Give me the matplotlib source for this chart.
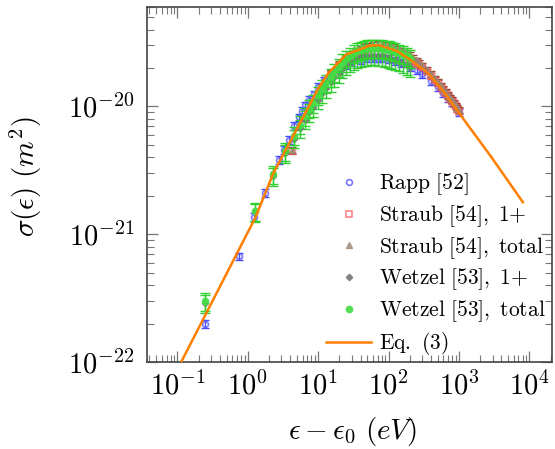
import matplotlib
matplotlib.use("Agg")
import matplotlib.pyplot as plt
import numpy as np
from matplotlib.ticker import FuncFormatter, LogLocator, NullFormatter, FixedLocator

plt.rcParams['mathtext.fontset'] = 'cm'
plt.rcParams['font.family'] = ['DejaVu Serif']

# ---------------- data ----------------
rapp_x = [0.25, 0.76, 1.24, 1.77, 2.8, 3.3, 3.8, 4.5, 5.25, 5.9, 6.5, 7.5, 8.6, 10, 12, 15, 20, 25, 30, 40,
          50, 60, 70, 80, 100, 125, 150, 200, 250, 300, 400, 500, 600, 700, 800, 1000]
rapp_y = [2.0e-22, 6.7e-22, 1.36e-21, 2.12e-21, 3.8e-21, 4.6e-21, 5.5e-21, 7.0e-21, 8.2e-21, 9.2e-21,
          1.02e-20, 1.13e-20, 1.24e-20, 1.42e-20, 1.6e-20, 1.78e-20, 1.98e-20, 2.12e-20, 2.22e-20, 2.32e-20,
          2.38e-20, 2.40e-20, 2.40e-20, 2.39e-20, 2.35e-20, 2.28e-20, 2.2e-20, 2.05e-20, 1.92e-20, 1.8e-20,
          1.58e-20, 1.42e-20, 1.28e-20, 1.17e-20, 1.08e-20, 9.0e-21]
rapp_err = 0.07

straub_x = [4.2, 15, 20, 25, 30, 35, 40, 45, 50, 60, 70, 80, 90, 100, 110, 120, 140, 160, 180, 200, 225,
            250, 275, 300, 350, 400, 450, 500, 550, 600, 650, 700, 750, 800, 850, 900, 950, 1000]
straub_tot_y = [4.56e-21, 1.85e-20, 2.15e-20, 2.42e-20, 2.6e-20, 2.75e-20, 2.85e-20, 2.93e-20, 2.98e-20,
                3.05e-20, 3.07e-20, 3.07e-20, 3.05e-20, 3.02e-20, 2.98e-20, 2.93e-20, 2.83e-20, 2.73e-20,
                2.62e-20, 2.52e-20, 2.4e-20, 2.29e-20, 2.19e-20, 2.1e-20, 1.94e-20, 1.79e-20, 1.66e-20,
                1.55e-20, 1.46e-20, 1.38e-20, 1.3e-20, 1.23e-20, 1.17e-20, 1.12e-20, 1.07e-20, 1.02e-20,
                9.8e-21, 9.4e-21]
straub_one_y = [4.5e-21, 1.8e-20, 2.08e-20, 2.33e-20, 2.5e-20, 2.63e-20, 2.72e-20, 2.78e-20, 2.82e-20,
                2.87e-20, 2.88e-20, 2.87e-20, 2.85e-20, 2.82e-20, 2.78e-20, 2.73e-20, 2.64e-20, 2.55e-20,
                2.46e-20, 2.38e-20, 2.28e-20, 2.19e-20, 2.1e-20, 2.02e-20, 1.88e-20, 1.74e-20, 1.62e-20,
                1.52e-20, 1.43e-20, 1.35e-20, 1.28e-20, 1.21e-20, 1.15e-20, 1.1e-20, 1.05e-20, 1.0e-20,
                9.6e-21, 9.2e-21]
straub_err = 0.05

wetzel_x = [0.25, 1.25, 2.3, 3.4, 4.5, 5.5, 6.5, 7.5, 8.5, 10, 11.5, 13, 15, 17, 19.5, 22, 25, 28, 32, 36,
            40, 45, 50, 56, 63, 70, 80, 90, 100, 110, 125, 140, 160, 180, 200]
wetzel_tot_y = [3.0e-22, 1.52e-21, 2.94e-21, 4.47e-21, 5.9e-21, 7.2e-21, 8.4e-21, 9.6e-21, 1.06e-20,
                1.22e-20, 1.38e-20, 1.52e-20, 1.7e-20, 1.86e-20, 2.03e-20, 2.2e-20, 2.36e-20, 2.48e-20,
                2.6e-20, 2.7e-20, 2.76e-20, 2.8e-20, 2.83e-20, 2.85e-20, 2.86e-20, 2.86e-20, 2.84e-20,
                2.82e-20, 2.78e-20, 2.74e-20, 2.68e-20, 2.62e-20, 2.54e-20, 2.46e-20, 2.38e-20]
wetzel_one_y = [2.9e-22, 1.48e-21, 2.85e-21, 4.3e-21, 5.6e-21, 6.8e-21, 7.9e-21, 9.0e-21, 9.9e-21,
                1.13e-20, 1.27e-20, 1.39e-20, 1.55e-20, 1.69e-20, 1.83e-20, 1.97e-20, 2.1e-20, 2.2e-20,
                2.3e-20, 2.38e-20, 2.43e-20, 2.46e-20, 2.48e-20, 2.49e-20, 2.49e-20, 2.48e-20, 2.46e-20,
                2.43e-20, 2.39e-20, 2.35e-20, 2.3e-20, 2.24e-20, 2.17e-20, 2.1e-20, 2.03e-20]
wetzel_err = 0.16

eq_x = [0.113, 1.28, 2.32, 5.0, 10, 14, 25, 55, 76, 131, 200, 360, 600, 1030, 2900, 8100]
eq_y = [1.0e-22, 1.35e-21, 3.03e-21, 6.7e-21, 1.38e-20, 1.83e-20, 2.55e-20, 3.0e-20, 3.0e-20, 2.72e-20,
        2.33e-20, 1.83e-20, 1.32e-20, 8.7e-21, 4.0e-21, 1.78e-21]

x_ticks = [0.1, 1, 10, 100, 1000, 10000]
y_ticks = [1e-22, 1e-21, 1e-20]

labels = [r'$\mathrm{Rapp\ [52]}$', r'$\mathrm{Straub\ [54],\ 1{+}}$', r'$\mathrm{Straub\ [54],\ total}$',
          r'$\mathrm{Wetzel\ [53],\ 1{+}}$', r'$\mathrm{Wetzel\ [53],\ total}$', r'$\mathrm{Eq.\ (3)}$']

# ---------------- figure ----------------
fig = plt.figure(figsize=(5.55, 4.49), dpi=100)
ax = fig.add_axes([0.265, 0.1938, 0.7296, 0.7906])
ax.set_xscale('log')
ax.set_yscale('log')

def ebar(x, y, frac, color, cap, lw, z):
    x = np.asarray(x); y = np.asarray(y)
    ax.errorbar(x, y, yerr=y * frac, fmt='none', ecolor=color, elinewidth=lw, capsize=cap,
                capthick=lw, zorder=z)

ebar(rapp_x, rapp_y, rapp_err, '#4a4aff', 3.2, 1.0, 2)
ax.plot(rapp_x, rapp_y, 'o', ms=4.2, mfc='none', mec='#5555ff', mew=1.2, alpha=0.8, zorder=2.1,
        label=labels[0])
ebar(straub_x, straub_one_y, straub_err, '#cc4444', 3.0, 1.0, 3)
ax.plot(straub_x, straub_one_y, 's', ms=4.0, mfc='none', mec='#ff6666', mew=1.2, alpha=0.8, zorder=3.1,
        label=labels[1])
ebar(straub_x, straub_tot_y, straub_err, '#994433', 3.0, 1.0, 4)
ax.plot(straub_x, straub_tot_y, '^', ms=4.0, mfc='#a08878', mec='#a08878', alpha=0.8, zorder=4.1,
        label=labels[2])
ebar(wetzel_x, wetzel_one_y, wetzel_err, '#33cc33', 3.5, 1.0, 5)
ax.plot(wetzel_x, wetzel_one_y, 'D', ms=3.2, mfc='#777777', mec='#777777', alpha=0.9, zorder=5.1,
        label=labels[3])
ebar(wetzel_x, wetzel_tot_y, wetzel_err, '#2ed42e', 3.5, 1.0, 6)
ax.plot(wetzel_x, wetzel_tot_y, 'o', ms=4.5, mfc='#44dd44', mec='#44dd44', alpha=0.9, zorder=6.1,
        label=labels[4])
ax.plot(eq_x, eq_y, '-', color='#ff7f00', lw=1.8, zorder=10, label=labels[5])

ax.set_xlim(0.037, 21000)
ax.set_ylim(1e-22, 6.0e-20)

fmt = FuncFormatter(lambda v, p: r'$10^{%d}$' % int(round(np.log10(v))))
ax.xaxis.set_major_locator(FixedLocator(x_ticks))
ax.yaxis.set_major_locator(FixedLocator(y_ticks))
ax.xaxis.set_minor_locator(LogLocator(base=10, subs=np.arange(2, 10), numticks=50))
ax.yaxis.set_minor_locator(LogLocator(base=10, subs=np.arange(2, 10), numticks=50))
ax.xaxis.set_major_formatter(fmt)
ax.yaxis.set_major_formatter(fmt)
ax.xaxis.set_minor_formatter(NullFormatter())
ax.yaxis.set_minor_formatter(NullFormatter())

ax.tick_params(which='both', direction='in', top=True, right=True, color='#777777')
ax.tick_params(which='major', length=8, width=0.9, labelsize=20.5, pad=7)
ax.tick_params(axis='y', which='major', pad=9)
ax.tick_params(which='minor', length=5, width=0.8)
for s in ax.spines.values():
    s.set_color('#444444')
    s.set_linewidth(1.2)

ax.set_xlabel(r'$\epsilon - \epsilon_0\ (eV)$', fontsize=21, va='bottom')
ax.set_ylabel(r'$\sigma(\epsilon)\ (m^2)$', fontsize=21)
ax.xaxis.set_label_coords(0.509, -0.241)
ax.yaxis.set_label_coords(-0.255, 0.523)

leg = ax.legend(loc='lower right', bbox_to_anchor=(1.0, -0.005), frameon=False, fontsize=15.5,
                handlelength=2.1, handletextpad=0.35, labelspacing=0.28, borderpad=0.2,
                borderaxespad=0.1, markerscale=1.0)

fig.savefig('out.png', dpi=100)
